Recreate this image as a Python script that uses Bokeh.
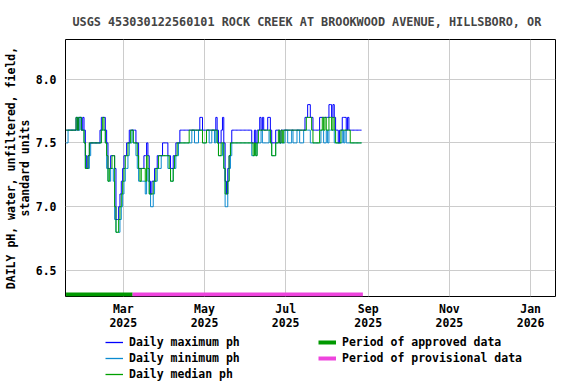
import datetime as dt
from bokeh.plotting import figure
from bokeh.layouts import column
from bokeh.models import (Range1d, FixedTicker, DatetimeTickFormatter, Legend,
                          LegendItem, ColumnDataSource, NumeralTickFormatter)
from bokeh.embed import file_html
from bokeh.resources import INLINE

# ---------------- data ----------------
start_date = dt.datetime(2025, 1, 17)

daily_max = [
    7.6, 7.6, 7.6, 7.6, 7.6, 7.6, 7.6, 7.6, 7.7, 7.6,
    7.7, 7.7, 7.6, 7.7, 7.6, 7.4, 7.3, 7.4, 7.5, 7.5,
    7.5, 7.5, 7.5, 7.5, 7.5, 7.5, 7.6, 7.7, 7.7, 7.7,
    7.6, 7.5, 7.3, 7.3, 7.4, 7.4, 7.4, 7.3, 6.9, 6.9,
    7.0, 7.1, 7.2, 7.3, 7.4, 7.4, 7.5, 7.5, 7.6, 7.6,
    7.6, 7.6, 7.6, 7.5, 7.5, 7.3, 7.3, 7.3, 7.3, 7.4,
    7.4, 7.5, 7.4, 7.2, 7.1, 7.2, 7.2, 7.3, 7.3, 7.4,
    7.4, 7.4, 7.4, 7.5, 7.5, 7.5, 7.5, 7.4, 7.4, 7.3,
    7.3, 7.4, 7.4, 7.5, 7.5, 7.5, 7.6, 7.6, 7.6, 7.6,
    7.6, 7.6, 7.6, 7.6, 7.6, 7.6, 7.6, 7.6, 7.6, 7.6,
    7.6, 7.7, 7.7, 7.6, 7.6, 7.6, 7.6, 7.6, 7.6, 7.6,
    7.6, 7.6, 7.6, 7.7, 7.6, 7.5, 7.5, 7.6, 7.7, 7.5,
    7.2, 7.1, 7.3, 7.4, 7.5, 7.6, 7.6, 7.6, 7.6, 7.6,
    7.6, 7.6, 7.6, 7.6, 7.6, 7.6, 7.6, 7.6, 7.6, 7.6,
    7.5, 7.5, 7.6, 7.5, 7.6, 7.6, 7.7, 7.6, 7.7, 7.6,
    7.6, 7.6, 7.7, 7.7, 7.6, 7.5, 7.5, 7.5, 7.6, 7.6,
    7.6, 7.5, 7.6, 7.6, 7.6, 7.6, 7.6, 7.6, 7.6, 7.6,
    7.6, 7.6, 7.6, 7.6, 7.6, 7.6, 7.6, 7.6, 7.6, 7.6,
    7.7, 7.7, 7.8, 7.8, 7.7, 7.7, 7.6, 7.6, 7.6, 7.6,
    7.6, 7.7, 7.7, 7.7, 7.7, 7.7, 7.7, 7.7, 7.8, 7.8,
    7.7, 7.8, 7.7, 7.6, 7.6, 7.5, 7.6, 7.6, 7.7, 7.7,
    7.7, 7.6, 7.7, 7.6, 7.6, 7.6, 7.6, 7.6, 7.6, 7.6,
    7.6, 7.6, 7.6,
]

daily_min = [
    7.5, 7.5, 7.6, 7.6, 7.6, 7.6, 7.6, 7.6, 7.6, 7.7,
    7.6, 7.7, 7.6, 7.6, 7.5, 7.3, 7.3, 7.3, 7.4, 7.5,
    7.5, 7.5, 7.5, 7.5, 7.5, 7.5, 7.5, 7.6, 7.6, 7.6,
    7.5, 7.3, 7.2, 7.2, 7.3, 7.3, 7.2, 6.9, 6.8, 6.8,
    6.8, 6.9, 7.0, 7.1, 7.2, 7.3, 7.3, 7.4, 7.5, 7.5,
    7.6, 7.5, 7.5, 7.4, 7.3, 7.2, 7.2, 7.2, 7.2, 7.2,
    7.1, 7.3, 7.2, 7.1, 7.0, 7.0, 7.1, 7.2, 7.2, 7.3,
    7.3, 7.3, 7.4, 7.4, 7.4, 7.4, 7.4, 7.3, 7.3, 7.2,
    7.2, 7.3, 7.3, 7.4, 7.4, 7.5, 7.5, 7.5, 7.5, 7.5,
    7.5, 7.5, 7.5, 7.5, 7.5, 7.6, 7.6, 7.5, 7.5, 7.5,
    7.6, 7.6, 7.6, 7.5, 7.5, 7.5, 7.6, 7.6, 7.5, 7.5,
    7.6, 7.6, 7.5, 7.6, 7.5, 7.4, 7.4, 7.4, 7.5, 7.3,
    7.0, 7.0, 7.2, 7.3, 7.4, 7.5, 7.5, 7.5, 7.5, 7.5,
    7.5, 7.5, 7.5, 7.5, 7.5, 7.5, 7.5, 7.5, 7.5, 7.5,
    7.4, 7.4, 7.5, 7.4, 7.5, 7.5, 7.5, 7.6, 7.5, 7.5,
    7.5, 7.5, 7.5, 7.6, 7.5, 7.4, 7.4, 7.4, 7.5, 7.5,
    7.5, 7.5, 7.5, 7.5, 7.5, 7.6, 7.6, 7.5, 7.5, 7.5,
    7.6, 7.5, 7.5, 7.5, 7.6, 7.6, 7.5, 7.5, 7.5, 7.6,
    7.6, 7.6, 7.6, 7.6, 7.5, 7.5, 7.5, 7.5, 7.5, 7.5,
    7.5, 7.5, 7.6, 7.6, 7.5, 7.5, 7.6, 7.5, 7.6, 7.6,
    7.6, 7.6, 7.5, 7.5, 7.5, 7.5, 7.5, 7.5, 7.6, 7.5,
    7.6, 7.5, 7.5, 7.5, 7.5, 7.5, 7.5, 7.5, 7.5, 7.5,
    7.5, 7.5, 7.5,
]

daily_median = [
    7.6, 7.6, 7.6, 7.6, 7.6, 7.6, 7.6, 7.6, 7.7, 7.6,
    7.7, 7.7, 7.6, 7.6, 7.5, 7.3, 7.3, 7.4, 7.5, 7.5,
    7.5, 7.5, 7.5, 7.5, 7.5, 7.5, 7.5, 7.6, 7.7, 7.6,
    7.5, 7.4, 7.2, 7.3, 7.3, 7.4, 7.4, 7.0, 6.8, 6.8,
    6.9, 7.0, 7.1, 7.2, 7.3, 7.4, 7.4, 7.5, 7.5, 7.6,
    7.6, 7.5, 7.5, 7.5, 7.4, 7.3, 7.2, 7.3, 7.3, 7.3,
    7.2, 7.4, 7.3, 7.1, 7.1, 7.1, 7.2, 7.2, 7.3, 7.3,
    7.4, 7.4, 7.4, 7.4, 7.4, 7.4, 7.4, 7.4, 7.3, 7.2,
    7.2, 7.3, 7.4, 7.4, 7.5, 7.5, 7.5, 7.5, 7.5, 7.5,
    7.5, 7.5, 7.5, 7.6, 7.6, 7.6, 7.6, 7.6, 7.6, 7.6,
    7.6, 7.6, 7.6, 7.5, 7.5, 7.5, 7.6, 7.6, 7.6, 7.6,
    7.6, 7.6, 7.6, 7.6, 7.5, 7.4, 7.4, 7.5, 7.5, 7.3,
    7.1, 7.1, 7.2, 7.4, 7.5, 7.5, 7.5, 7.5, 7.5, 7.5,
    7.5, 7.5, 7.5, 7.5, 7.5, 7.5, 7.5, 7.5, 7.5, 7.5,
    7.5, 7.4, 7.5, 7.4, 7.5, 7.6, 7.6, 7.6, 7.6, 7.6,
    7.6, 7.6, 7.6, 7.6, 7.5, 7.4, 7.4, 7.4, 7.5, 7.5,
    7.6, 7.5, 7.6, 7.5, 7.6, 7.6, 7.6, 7.6, 7.6, 7.6,
    7.6, 7.6, 7.6, 7.6, 7.6, 7.6, 7.6, 7.6, 7.6, 7.6,
    7.6, 7.7, 7.7, 7.7, 7.7, 7.6, 7.5, 7.5, 7.5, 7.5,
    7.5, 7.6, 7.6, 7.7, 7.6, 7.7, 7.6, 7.6, 7.7, 7.7,
    7.6, 7.7, 7.6, 7.5, 7.5, 7.5, 7.5, 7.6, 7.6, 7.6,
    7.6, 7.6, 7.6, 7.6, 7.5, 7.5, 7.5, 7.5, 7.5, 7.5,
    7.5, 7.5, 7.5,
]

approved_period = [dt.datetime(2025, 1, 17), dt.datetime(2025, 3, 8)]
provisional_period = [dt.datetime(2025, 3, 8), dt.datetime(2025, 8, 28)]

x_ticks = [dt.datetime(2025, 3, 1), dt.datetime(2025, 5, 1), dt.datetime(2025, 7, 1),
           dt.datetime(2025, 9, 1), dt.datetime(2025, 11, 1), dt.datetime(2026, 1, 1)]
y_ticks = [6.5, 7.0, 7.5, 8.0]

title_text = "USGS 453030122560101 ROCK CREEK AT BROOKWOOD AVENUE, HILLSBORO, OR"
y_label = "DAILY pH, water, unfiltered, field,\nstandard units"
series_labels = ["Daily maximum ph", "Daily minimum ph", "Daily median ph"]
period_labels = ["Period of approved data", "Period of provisional data"]

# ---------------- figure ----------------
n = len(daily_max)
dates = [start_date + dt.timedelta(days=i) for i in range(n)]
src = ColumnDataSource(dict(date=dates, mx=daily_max, mn=daily_min, md=daily_median))

FONT = "DejaVu Sans Mono"
FS = "11.5px"
y0, y1 = 6.297, 8.31
W = 576
H_MAIN = 332
H_LEG = 384 - H_MAIN

C_MAX = "#0000ff"
C_MIN = "#0a8ad0"
C_MED = "#00a000"
C_APP = "#009900"
C_PRO = "#ee44dd"

p = figure(width=W, height=H_MAIN, output_backend="svg", toolbar_location=None,
           x_axis_type="datetime",
           x_range=Range1d(dt.datetime(2025, 1, 16, 14), dt.datetime(2026, 1, 19, 17)),
           y_range=Range1d(y0, y1),
           min_border_left=63, min_border_right=21, min_border_top=39,
           min_border_bottom=H_MAIN - 296)

p.title.text = title_text
p.title.text_font = FONT
p.title.text_font_size = "11.8px"
p.title.text_font_style = "bold"
p.title.align = "left"
p.title.offset = 7
p.title.standoff = 22

p.outline_line_color = "black"
p.outline_line_width = 1
p.background_fill_color = "white"
p.border_fill_color = "white"

tick_ms = [t.timestamp() * 1000 for t in x_ticks]
p.xgrid.ticker = FixedTicker(ticks=tick_ms)
p.ygrid.ticker = FixedTicker(ticks=y_ticks)
for g in (p.xgrid, p.ygrid):
    g.grid_line_color = "#cccccc"
    g.grid_line_width = 1

xa = p.xaxis[0]
xa.ticker = FixedTicker(ticks=tick_ms)
xa.formatter = DatetimeTickFormatter(months="%b\n%Y", days="%b\n%Y", years="%b\n%Y")
ya = p.yaxis[0]
ya.ticker = FixedTicker(ticks=y_ticks)
ya.formatter = NumeralTickFormatter(format="0.0")
ya.axis_label = y_label
for ax in (xa, ya):
    ax.axis_line_color = None
    ax.major_tick_line_color = None
    ax.minor_tick_line_color = None
    ax.major_tick_out = 0
    ax.major_tick_in = 0
    ax.major_label_text_font = FONT
    ax.major_label_text_font_size = FS
    ax.major_label_text_font_style = "bold"
    ax.major_label_text_color = "black"
xa.major_label_standoff = 5
xa.major_label_text_line_height = 1.0
ya.major_label_standoff = 9
ya.axis_label_text_font = FONT
ya.axis_label_text_font_size = FS
ya.axis_label_text_font_style = "bold"
ya.axis_label_text_color = "black"
ya.axis_label_text_line_height = 1.0
ya.axis_label_standoff = 1

p.step("date", "mn", source=src, mode="center", line_color=C_MIN, line_width=1)
p.step("date", "mx", source=src, mode="center", line_color=C_MAX, line_width=1)
p.step("date", "md", source=src, mode="center", line_color=C_MED, line_width=1)

bar_y = y0 + (y1 - y0) * 2.0 / 257.0
p.segment(x0=approved_period[0], x1=approved_period[1], y0=bar_y, y1=bar_y,
          line_color=C_APP, line_width=4)
p.segment(x0=provisional_period[0], x1=provisional_period[1], y0=bar_y, y1=bar_y,
          line_color=C_PRO, line_width=4)

# ---------------- legend strip ----------------
# The same series drawn again in a strip whose ranges keep them out of view;
# they only serve as the legend's glyphs.
q = figure(width=W, height=H_LEG, output_backend="svg", toolbar_location=None,
           x_range=Range1d(0, 1), y_range=Range1d(0, 1),
           min_border_left=0, min_border_right=0, min_border_top=0, min_border_bottom=0)
q.axis.visible = False
q.grid.visible = False
q.outline_line_color = None
q.background_fill_color = "white"
q.border_fill_color = "white"

lr_max = q.segment(x0="date", x1="date", y0="mx", y1="mx", source=src,
                   line_color=C_MAX, line_width=1.3)
lr_min = q.segment(x0="date", x1="date", y0="mn", y1="mn", source=src,
                   line_color=C_MIN, line_width=1.3)
lr_med = q.segment(x0="date", x1="date", y0="md", y1="md", source=src,
                   line_color=C_MED, line_width=1.3)
lr_app = q.segment(x0=approved_period[0], x1=approved_period[1], y0=bar_y, y1=bar_y,
                   line_color=C_APP, line_width=4)
lr_pro = q.segment(x0=provisional_period[0], x1=provisional_period[1], y0=bar_y, y1=bar_y,
                   line_color=C_PRO, line_width=4)

FRAME_LEFT = 63


def make_legend(items, loc):
    return Legend(items=items, location=loc, orientation="vertical",
                  padding=0, margin=0, spacing=0, label_height=16, glyph_height=16,
                  glyph_width=18, label_standoff=6,
                  border_line_alpha=0, background_fill_alpha=0,
                  label_text_font=FONT, label_text_font_size=FS,
                  label_text_font_style="bold", label_text_color="black")


leg1 = make_legend([LegendItem(label=series_labels[0], renderers=[lr_max]),
                    LegendItem(label=series_labels[1], renderers=[lr_min]),
                    LegendItem(label=series_labels[2], renderers=[lr_med])],
                   (103 - FRAME_LEFT, H_LEG - 49.5))
leg2 = make_legend([LegendItem(label=period_labels[0], renderers=[lr_app]),
                    LegendItem(label=period_labels[1], renderers=[lr_pro])],
                   (316 - FRAME_LEFT, H_LEG - 33.5))
q.add_layout(leg1, "center")
q.add_layout(leg2, "center")

layout = column(p, q, spacing=0)
open("out.html", "w").write(file_html(layout, INLINE))
